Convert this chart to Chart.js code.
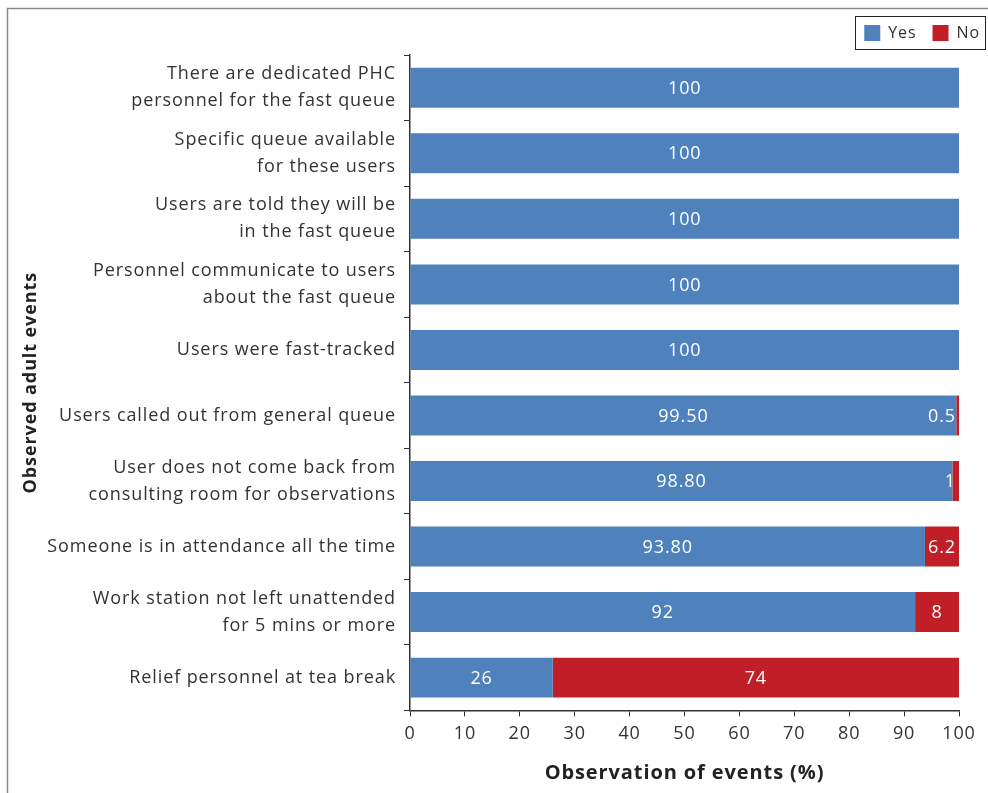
<!DOCTYPE html>
<html>
<head>
<meta charset="utf-8">
<script src="https://cdn.jsdelivr.net/npm/chart.js"></script>
<style>
  body { margin: 0; background: #fff; overflow: hidden; }
</style>
</head>
<body>
<canvas id="chart" width="988" height="793"></canvas>
<script>
// data
const categories = [
    ['There are dedicated PHC', 'personnel for the fast queue'],
    ['Specific queue available', 'for these users'],
    ['Users are told they will be', 'in the fast queue'],
    ['Personnel communicate to users', 'about the fast queue'],
    'Users were fast-tracked',
    'Users called out from general queue',
    ['User does not come back from', 'consulting room for observations'],
    'Someone is in attendance all the time',
    ['Work station not left unattended', 'for 5 mins or more'],
    'Relief personnel at tea break'
];
const yesValues = [100, 100, 100, 100, 100, 99.5, 98.8, 93.8, 92, 26];
const noValues = [0, 0, 0, 0, 0, 0.5, 1.2, 6.2, 8, 74];
const yesLabels = ['100', '100', '100', '100', '100', '99.50', '98.80', '93.80', '92', '26'];
const noLabels = ['', '', '', '', '', '0.5', '1', '6.2', '8', '74'];
const xTicks = [0, 10, 20, 30, 40, 50, 60, 70, 80, 90, 100];

const FONT = "'Open Sans', sans-serif";
const SPACING = '0.9px';
const BLUE = '#4f81bd';
const RED = '#c01f28';
const INK = '#333333';

// wide letter spacing, set once the canvas has been sized
const spacing = {
    id: 'spacing',
    beforeUpdate(chart) { chart.ctx.letterSpacing = SPACING; },
    beforeDraw(chart) { chart.ctx.letterSpacing = SPACING; },
    beforeLayout(chart) {
        // a little more room under the legend
        const lg = chart.legend;
        if (lg && !lg._extra) {
            const fit = lg.fit.bind(lg);
            lg.fit = function () { fit(); this.height += 4; };
            lg._extra = true;
        }
    }
};

// outer frame + legend box
const framePlugin = {
    id: 'frame',
    beforeDraw(chart) {
        const ctx = chart.ctx;
        ctx.save();
        ctx.strokeStyle = '#8a8a8a';
        ctx.lineWidth = 1.5;
        ctx.strokeRect(7.5, 8.5, 2000, 2000);
        ctx.restore();
    },
    afterDraw(chart) {
        const lg = chart.legend;
        if (!lg || !lg.legendHitBoxes.length) return;
        const boxes = lg.legendHitBoxes;
        const first = boxes[0], last = boxes[boxes.length - 1];
        const ctx = chart.ctx;
        ctx.save();
        ctx.strokeStyle = '#222';
        ctx.lineWidth = 1;
        ctx.strokeRect(Math.round(first.left) - 8.5, Math.round(first.top) - 8.5,
            Math.round(last.left + last.width - first.left) + 14, Math.round(first.height) + 17);
        ctx.restore();
    }
};

// value labels inside the bars
const valueLabels = {
    id: 'valueLabels',
    afterDatasetsDraw(chart) {
        const ctx = chart.ctx;
        const texts = [yesLabels, noLabels];
        ctx.save();
        ctx.font = '18px ' + FONT;
        ctx.fillStyle = '#fff';
        ctx.textBaseline = 'middle';
        chart.data.datasets.forEach((ds, di) => {
            chart.getDatasetMeta(di).data.forEach((bar, i) => {
                const t = texts[di][i];
                if (!t) return;
                const w = ctx.measureText(t).width;
                const segW = Math.abs(bar.x - bar.base);
                if (w <= segW) {
                    ctx.textAlign = 'center';
                    ctx.fillText(t, (bar.x + bar.base) / 2, bar.y + 1);
                } else {
                    ctx.textAlign = 'right';
                    ctx.fillText(t, chart.chartArea.right - 3, bar.y + 1);
                }
            });
        });
        ctx.restore();
    }
};

new Chart(document.getElementById('chart'), {
    type: 'bar',
    data: {
        labels: categories,
        datasets: [
            { label: 'Yes', data: yesValues, backgroundColor: BLUE, barPercentage: 0.61, categoryPercentage: 1 },
            { label: 'No', data: noValues, backgroundColor: RED, barPercentage: 0.61, categoryPercentage: 1 }
        ]
    },
    options: {
        indexAxis: 'y',
        responsive: false,
        animation: false,
        layout: { padding: { left: 14, right: -8, top: 9, bottom: 6 } },
        plugins: {
            legend: {
                position: 'top',
                align: 'end',
                labels: {
                    font: { family: FONT, size: 16 },
                    color: INK,
                    boxWidth: 16,
                    boxHeight: 16,
                    padding: 16
                }
            },
            tooltip: { enabled: false }
        },
        scales: {
            x: {
                stacked: true,
                min: 0,
                max: 100,
                afterBuildTicks(scale) { scale.ticks = xTicks.map(v => ({ value: v })); },
                afterFit(scale) { scale.paddingRight = 29; },
                ticks: { font: { family: FONT, size: 18 }, color: INK, padding: 7 },
                grid: { drawOnChartArea: false, drawTicks: true, tickLength: 6, color: INK },
                border: { display: true, color: INK, width: 1.5 },
                title: {
                    display: true,
                    text: 'Observation of events (%)',
                    font: { family: FONT, size: 20, weight: 'bold' },
                    color: '#222',
                    padding: { top: 9, bottom: 2 }
                }
            },
            y: {
                stacked: true,
                afterFit(scale) { scale.width = 396; },
                ticks: { font: { family: FONT, size: 18, lineHeight: 1.5 }, color: INK, padding: 8 },
                grid: { drawOnChartArea: false, drawTicks: true, tickLength: 6, color: INK, offset: true },
                border: { display: true, color: INK, width: 1.5 },
                title: {
                    display: true,
                    text: 'Observed adult events',
                    font: { family: FONT, size: 18, weight: 'bold' },
                    color: '#222',
                    padding: { top: 6, bottom: 0 }
                }
            }
        }
    },
    plugins: [spacing, framePlugin, valueLabels]
});
</script>
</body>
</html>
